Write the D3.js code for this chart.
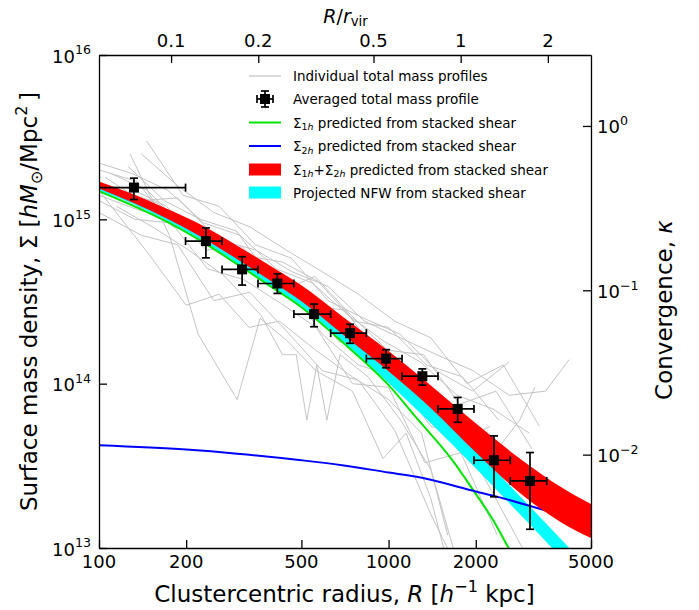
<!DOCTYPE html>
<html>
<head>
<meta charset="utf-8">
<script src="https://cdn.jsdelivr.net/npm/d3@7"></script>
<style>
  body { margin: 0; background: #fff; }
  text { font-family: "DejaVu Sans", sans-serif; fill: #000; }
</style>
</head>
<body>
<div id="chart"></div>
<script>

////////////////////////////////////////////////////////
// Data ////////////////////////////////////////////////
////////////////////////////////////////////////////////

// averaged profile: radius [h^-1 kpc], Sigma [h Msun / Mpc^2]
var radius   = [132, 234, 312, 413, 553, 736, 980, 1308, 1732, 2312, 3078];
var radiusLo = [50, 199, 266, 354, 471, 631, 838, 1113, 1481, 1972, 2632];
var radiusHi = [199, 266, 354, 471, 631, 838, 1113, 1481, 1972, 2632, 3516];
var sigma    = [1.56e15, 7.37e14, 4.96e14, 4.07e14, 2.65e14, 2.03e14, 1.42e14, 1.11e14, 7.02e13, 3.42e13, 2.56e13];
var sigmaHi  = [1.78e15, 8.87e14, 5.92e14, 4.66e14, 3.05e14, 2.30e14, 1.61e14, 1.23e14, 8.24e13, 4.81e13, 3.81e13];
var sigmaLo  = [1.32e15, 5.83e14, 3.98e14, 3.54e14, 2.22e14, 1.76e14, 1.25e14, 9.80e13, 5.82e13, 2.05e13, 1.30e13];

// 1h+2h band and projected NFW band
var bandR  = [100, 130, 170, 220, 300, 400, 500, 700, 1000, 1400, 2000, 2800, 4000, 5000];
var sumHi  = [1.70e15, 1.43e15, 1.17e15, 9.46e14, 6.91e14, 5.08e14, 3.97e14, 2.53e14, 1.58e14, 9.76e13, 5.74e13, 3.57e13, 2.31e13, 1.85e13];
var sumLo  = [1.54e15, 1.27e15, 1.02e15, 8.01e14, 5.72e14, 4.12e14, 3.17e14, 1.97e14, 1.19e14, 7.09e13, 3.82e13, 2.21e13, 1.41e13, 1.15e13];
var nfwHi  = [1.60e15, 1.33e15, 1.06e15, 8.36e14, 5.97e14, 4.30e14, 3.31e14, 2.06e14, 1.24e14, 7.39e13, 3.93e13, 2.12e13, 1.10e13, 7.31e12];
var nfwLo  = [1.50e15, 1.25e15, 9.89e14, 7.69e14, 5.41e14, 3.87e14, 2.96e14, 1.79e14, 1.01e14, 5.74e13, 3.06e13, 1.65e13, 8.53e12, 5.68e12];

// one-halo and two-halo terms
var oneHaloR = [100, 170, 220, 300, 400, 500, 700, 1000, 1260, 1650, 1960, 2300, 2600, 2900];
var oneHalo  = [1.485e15, 9.75e14, 7.58e14, 5.34e14, 3.81e14, 2.92e14, 1.76e14, 9.79e13, 6.08e13, 3.47e13, 2.25e13, 1.47e13, 9.96e12, 7.1e12];
var twoHaloR = [100, 200, 300, 500, 700, 1000, 1250, 2000, 2400, 3300, 5000];
var twoHalo  = [4.22e13, 3.97e13, 3.75e13, 3.42e13, 3.18e13, 2.88e13, 2.71e13, 2.21e13, 2.04e13, 1.74e13, 1.39e13];

// individual clusters: [R, Sigma / 1e14]
var individual = [
  [[100,20],[135,17],[180,9],[240,8.5],[320,6],[430,5.5],[570,4.2],[760,2.4],[1000,2.2],[1350,1.3],[1800,1.1],[2400,0.6]],
  [[100,17],[132,12],[176,11],[235,6.5],[313,6.8],[418,3.6],[557,4.5],[743,2.6],[990,1.6],[1320,1.5],[1760,0.75],[2350,0.9],[3130,0.4]],
  [[126,21],[168,13],[224,10],[298,8.5],[398,4.2],[531,3.0],[708,2.8],[944,1.4],[1259,1.0],[1679,0.42],[2239,0.55]],
  [[146,30],[195,14],[260,12],[347,7.0],[462,5.8],[617,3.2],[822,2.5],[1096,2.0],[1462,1.2],[1950,0.9],[2600,1.35]],
  [[100,13],[133,10],[178,9.5],[237,5],[316,4.3],[422,3.1],[562,2.2],[750,1.0],[1000,0.95],[1334,0.33],[1778,0.38],[2371,0.12]],
  [[110,19],[147,15],[196,9],[261,7.5],[348,6.5],[464,4.8],[619,3.9],[825,2.4],[1100,1.9],[1467,1.5],[1957,1.2],[2610,0.85],[3480,0.9],[4200,1.4]],
  [[100,11],[140,8],[187,7],[249,3.2],[332,3.6],[443,2.1],[590,1.2],[787,1.05],[1050,0.52],[1400,0.16],[1700,0.08]],
  [[120,15],[160,12.5],[213,8],[284,7.2],[379,4.0],[505,3.6],[673,1.8],[898,1.7],[1197,0.95],[1596,0.7],[2128,0.31],[2837,0.6],[3200,0.95]],
  [[100,22],[130,19],[173,15],[230,9.5],[307,8],[409,5],[545,4.1],[727,2.6],[969,1.8],[1292,1.35],[1723,0.85],[2297,0.7],[3062,0.5]],
  [[115,12],[153,9],[204,6.5],[272,4.5],[363,2.6],[430,1.5],[480,1.5],[522,0.6],[565,1.3],[612,0.6],[680,1.5],[850,1.1],[1100,0.6],[1400,0.3],[1700,0.09]],
  [[100,14],[135,11.5],[180,10],[240,7.5],[320,5.5],[427,3.9],[570,2.7],[760,1.8],[1000,1.2],[1300,0.9],[1650,0.6],[2100,0.45],[2700,0.3],[3400,0.2]],
  [[140,25],[187,16],[249,11],[332,9],[443,6.5],[590,4.8],[787,3.5],[1050,2.4],[1400,1.9],[1867,1.0],[2490,1.3],[3320,0.55]],
  [[100,16],[128,15.5],[171,12],[228,7.2],[304,5.2],[405,3.9],[540,3.3],[720,2.0],[960,1.25],[1280,0.8],[1707,0.55],[2276,0.22],[2900,0.1]],
  [[105,18],[140,13],[187,13.5],[249,8],[332,5],[443,4.1],[590,2.0],[787,1.3],[1050,1.1],[1400,0.55],[1867,0.48],[2490,0.34],[3500,0.18]],
  [[128,25],[175,8],[220,2.0],[300,0.8],[360,2.5],[450,1.8],[560,1.2],[750,0.9],[957,0.35],[1150,0.5],[1400,0.2],[1600,0.08]],
  [[100,15],[150,6],[200,3.0],[260,3.5],[330,2.2],[420,2.4],[560,1.6],[750,1.1],[1000,0.8],[1300,0.5],[1600,0.12]]
];

var rVir = 1774;          // h^-1 kpc
var sigmaCrit = 3.70e15;  // h Msun / Mpc^2

// ticks
var xMajor = [100, 200, 500, 1000, 2000, 5000];
var xMinor = [300, 400, 600, 700, 800, 900, 3000, 4000];
var yMajor = [1e13, 1e14, 1e15, 1e16];
var yExp   = ["13", "14", "15", "16"];
var topMajor = [0.1, 0.2, 0.5, 1, 2];
var topLabels = ["0.1", "0.2", "0.5", "1", "2"];
var topMinor = [0.06, 0.07, 0.08, 0.09, 0.3, 0.4, 0.6, 0.7, 0.8, 0.9];
var kMajor = [0.01, 0.1, 1];
var kExp   = ["\u22122", "\u22121", "0"];

////////////////////////////////////////////////////////
// Setup ///////////////////////////////////////////////
////////////////////////////////////////////////////////

var cfg = {
  width: 699,
  height: 610,
  plot: { left: 99, right: 591, top: 55, bottom: 548 },
  grey: "#c4c4c4",
  red: "#ff0000",
  cyan: "#00ffff",
  green: "#00e400",
  blue: "#0000ff",
  tickFont: 18,
  labelFont: 23
};

var yMinor = [];
[1e13, 1e14, 1e15].forEach(function(d) {
  for (var m = 2; m < 10; m++) yMinor.push(m * d);
});
var kMinor = [];
[0.001, 0.01, 0.1].forEach(function(d) {
  for (var m = 2; m < 10; m++) kMinor.push(m * d);
});
kMinor.push(2);

var x = d3.scaleLog().domain([100, 5000]).range([cfg.plot.left, cfg.plot.right]);
var y = d3.scaleLog().domain([1e13, 1e16]).range([cfg.plot.bottom, cfg.plot.top]);
var xTop = d3.scaleLog().domain([100 / rVir, 5000 / rVir]).range([cfg.plot.left, cfg.plot.right]);
var yK = d3.scaleLog().domain([1e13 / sigmaCrit, 1e16 / sigmaCrit]).range([cfg.plot.bottom, cfg.plot.top]);

var svg = d3.select("#chart").append("svg")
  .attr("width", cfg.width)
  .attr("height", cfg.height);

svg.append("defs").append("clipPath").attr("id", "clip")
  .append("rect")
  .attr("x", cfg.plot.left).attr("y", cfg.plot.top)
  .attr("width", cfg.plot.right - cfg.plot.left)
  .attr("height", cfg.plot.bottom - cfg.plot.top);

// text with sub / superscripts
function rich(sel, parts, size, subDrop) {
  var shift = 0;
  var drop = subDrop === undefined ? 0.22 : subDrop;
  parts.forEach(function(p) {
    var target = p.sup ? -0.45 * size : (p.sub ? drop * size : 0);
    var ts = sel.append("tspan").text(p.t).attr("dy", target - shift);
    if (p.sup || p.sub) ts.style("font-size", (0.7 * size) + "px");
    if (p.it) ts.style("font-style", "italic");
    shift = target;
  });
  return sel;
}

////////////////////////////////////////////////////////
// Curves //////////////////////////////////////////////
////////////////////////////////////////////////////////

var plot = svg.append("g").attr("clip-path", "url(#clip)");

var greyLine = d3.line()
  .x(function(d) { return x(d[0]); })
  .y(function(d) { return y(d[1] * 1e14); });

plot.append("g").selectAll("path")
  .data(individual)
  .enter().append("path")
    .attr("d", greyLine)
    .attr("fill", "none")
    .attr("stroke", cfg.grey)
    .attr("stroke-width", 1);

function band(hi, lo) {
  return d3.area()
    .x(function(d, i) { return x(bandR[i]); })
    .y0(function(d, i) { return y(lo[i]); })
    .y1(function(d, i) { return y(hi[i]); })
    .curve(d3.curveMonotoneX)(bandR);
}

function curve(rs, vs) {
  return d3.line()
    .x(function(d, i) { return x(rs[i]); })
    .y(function(d, i) { return y(vs[i]); })
    .curve(d3.curveMonotoneX)(rs);
}

plot.append("path").attr("d", band(nfwHi, nfwLo)).attr("fill", cfg.cyan);

plot.append("path").attr("d", curve(oneHaloR, oneHalo))
  .attr("fill", "none").attr("stroke", cfg.green).attr("stroke-width", 2);

plot.append("path").attr("d", curve(twoHaloR, twoHalo))
  .attr("fill", "none").attr("stroke", cfg.blue).attr("stroke-width", 2);

plot.append("path").attr("d", band(sumHi, sumLo)).attr("fill", cfg.red);

////////////////////////////////////////////////////////
// Averaged points /////////////////////////////////////
////////////////////////////////////////////////////////

var pts = radius.map(function(r, i) {
  return { r: r, s: sigma[i], rLo: radiusLo[i], rHi: radiusHi[i], sLo: sigmaLo[i], sHi: sigmaHi[i] };
});

var pt = plot.append("g").selectAll("g")
  .data(pts)
  .enter().append("g")
    .attr("stroke", "#000")
    .attr("stroke-width", 1.7);

pt.append("line")
  .attr("x1", function(d) { return x(d.rLo); }).attr("x2", function(d) { return x(d.rHi); })
  .attr("y1", function(d) { return y(d.s); }).attr("y2", function(d) { return y(d.s); });
pt.append("line")
  .attr("x1", function(d) { return x(d.r); }).attr("x2", function(d) { return x(d.r); })
  .attr("y1", function(d) { return y(d.sLo); }).attr("y2", function(d) { return y(d.sHi); });
// caps
[["rLo", "x"], ["rHi", "x"], ["sLo", "y"], ["sHi", "y"]].forEach(function(c) {
  pt.append("line")
    .attr("x1", function(d) { return c[1] === "x" ? x(d[c[0]]) : x(d.r) - 4; })
    .attr("x2", function(d) { return c[1] === "x" ? x(d[c[0]]) : x(d.r) + 4; })
    .attr("y1", function(d) { return c[1] === "x" ? y(d.s) - 4 : y(d[c[0]]); })
    .attr("y2", function(d) { return c[1] === "x" ? y(d.s) + 4 : y(d[c[0]]); });
});
pt.append("rect")
  .attr("x", function(d) { return x(d.r) - 5; })
  .attr("y", function(d) { return y(d.s) - 5; })
  .attr("width", 10).attr("height", 10)
  .attr("fill", "#000").attr("stroke", "none");

////////////////////////////////////////////////////////
// Axes ////////////////////////////////////////////////
////////////////////////////////////////////////////////

function drawAxis(axisFn, scale, major, minor, transform) {
  var g = svg.append("g").attr("transform", transform);
  g.call(axisFn(scale).tickValues(minor).tickSizeInner(-4.5).tickSizeOuter(0).tickFormat(""));
  g.call(axisFn(scale).tickValues(major).tickSizeInner(-8).tickSizeOuter(0).tickFormat(""));
  g.selectAll("path, line").attr("stroke", "#000").attr("stroke-width", 1.3);
  g.selectAll(".tick text").remove();
  return g;
}

drawAxis(d3.axisBottom, x, xMajor, xMinor, "translate(0," + cfg.plot.bottom + ")");
drawAxis(d3.axisTop, xTop, topMajor, topMinor, "translate(0," + cfg.plot.top + ")");
drawAxis(d3.axisLeft, y, yMajor, yMinor, "translate(" + cfg.plot.left + ",0)");
drawAxis(d3.axisRight, yK, kMajor, kMinor, "translate(" + cfg.plot.right + ",0)");

// tick labels
svg.append("g").selectAll("text")
  .data(xMajor).enter().append("text")
    .attr("x", function(d) { return x(d); })
    .attr("y", 568)
    .attr("text-anchor", "middle")
    .style("font-size", cfg.tickFont + "px")
    .text(function(d) { return d; });

svg.append("g").selectAll("text")
  .data(topMajor).enter().append("text")
    .attr("x", function(d) { return xTop(d); })
    .attr("y", 46.5)
    .attr("text-anchor", "middle")
    .style("font-size", cfg.tickFont + "px")
    .text(function(d, i) { return topLabels[i]; });

yMajor.forEach(function(v, i) {
  var t = svg.append("text")
    .attr("x", 91).attr("y", y(v) + 7.5)
    .attr("text-anchor", "end")
    .style("font-size", cfg.tickFont + "px");
  rich(t, [{ t: "10" }, { t: yExp[i], sup: true }], cfg.tickFont);
});

kMajor.forEach(function(v, i) {
  var t = svg.append("text")
    .attr("x", 597).attr("y", yK(v) + 7.5)
    .attr("text-anchor", "start")
    .style("font-size", cfg.tickFont + "px");
  rich(t, [{ t: "10" }, { t: kExp[i], sup: true }], cfg.tickFont);
});

// axis titles
rich(svg.append("text")
  .attr("x", 344.5).attr("y", 602)
  .attr("text-anchor", "middle")
  .style("font-size", cfg.labelFont + "px"),
  [{ t: "Clustercentric radius, " }, { t: "R", it: true }, { t: " [" }, { t: "h", it: true },
   { t: "\u22121", sup: true }, { t: " kpc]" }], cfg.labelFont);

rich(svg.append("text")
  .attr("transform", "translate(37,301.5) rotate(-90)")
  .attr("text-anchor", "middle")
  .style("font-size", cfg.labelFont + "px"),
  [{ t: "Surface mass density, \u03a3 [" }, { t: "hM", it: true }, { t: "\u2299", sub: true },
   { t: "/Mpc" }, { t: "2", sup: true }, { t: "\u2009]" }], cfg.labelFont);

rich(svg.append("text")
  .attr("transform", "translate(672,310) rotate(-90)")
  .attr("text-anchor", "middle")
  .style("font-size", cfg.labelFont + "px"),
  [{ t: "Convergence, " }, { t: "\u03ba", it: true }], cfg.labelFont);

rich(svg.append("text")
  .attr("x", 345.5).attr("y", 23)
  .attr("text-anchor", "middle")
  .style("font-size", "19px"),
  [{ t: "R", it: true }, { t: "/" }, { t: "r", it: true }, { t: "vir", sub: true }], 19, 0.16);

////////////////////////////////////////////////////////
// Legend //////////////////////////////////////////////
////////////////////////////////////////////////////////

var lg = svg.append("g");
var lgX0 = 249, lgX1 = 281, lgText = 293, lgFont = 13.5;
var rows = [76, 99, 122.5, 146, 169.5, 192.5];

lg.append("line").attr("x1", lgX0).attr("x2", lgX1).attr("y1", rows[0]).attr("y2", rows[0])
  .attr("stroke", cfg.grey).attr("stroke-width", 1.3);

var mk = lg.append("g").attr("stroke", "#000").attr("stroke-width", 1.7);
var mx = (lgX0 + lgX1) / 2, my = rows[1];
mk.append("line").attr("x1", mx - 8).attr("x2", mx + 8).attr("y1", my).attr("y2", my);
mk.append("line").attr("x1", mx).attr("x2", mx).attr("y1", my - 8).attr("y2", my + 8);
mk.append("line").attr("x1", mx - 8).attr("x2", mx - 8).attr("y1", my - 4).attr("y2", my + 4);
mk.append("line").attr("x1", mx + 8).attr("x2", mx + 8).attr("y1", my - 4).attr("y2", my + 4);
mk.append("line").attr("x1", mx - 4).attr("x2", mx + 4).attr("y1", my - 8).attr("y2", my - 8);
mk.append("line").attr("x1", mx - 4).attr("x2", mx + 4).attr("y1", my + 8).attr("y2", my + 8);
mk.append("rect").attr("x", mx - 5).attr("y", my - 5).attr("width", 10).attr("height", 10)
  .attr("fill", "#000").attr("stroke", "none");

lg.append("line").attr("x1", lgX0).attr("x2", lgX1).attr("y1", rows[2]).attr("y2", rows[2])
  .attr("stroke", cfg.green).attr("stroke-width", 2);
lg.append("line").attr("x1", lgX0).attr("x2", lgX1).attr("y1", rows[3]).attr("y2", rows[3])
  .attr("stroke", cfg.blue).attr("stroke-width", 2);
lg.append("rect").attr("x", lgX0).attr("y", rows[4] - 6).attr("width", lgX1 - lgX0).attr("height", 12)
  .attr("fill", cfg.red);
lg.append("rect").attr("x", lgX0).attr("y", rows[5] - 6).attr("width", lgX1 - lgX0).attr("height", 12)
  .attr("fill", cfg.cyan);

var legendParts = [
  [{ t: "Individual total mass profiles" }],
  [{ t: "Averaged total mass profile" }],
  [{ t: "\u03a3" }, { t: "1", sub: true }, { t: "h", sub: true, it: true }, { t: " predicted from stacked shear" }],
  [{ t: "\u03a3" }, { t: "2", sub: true }, { t: "h", sub: true, it: true }, { t: " predicted from stacked shear" }],
  [{ t: "\u03a3" }, { t: "1", sub: true }, { t: "h", sub: true, it: true }, { t: "+\u03a3" },
   { t: "2", sub: true }, { t: "h", sub: true, it: true }, { t: " predicted from stacked shear" }],
  [{ t: "Projected NFW from stacked shear" }]
];

legendParts.forEach(function(parts, i) {
  rich(lg.append("text")
    .attr("x", lgText).attr("y", rows[i] + 5)
    .style("font-size", lgFont + "px"), parts, lgFont);
});

</script>
</body>
</html>
